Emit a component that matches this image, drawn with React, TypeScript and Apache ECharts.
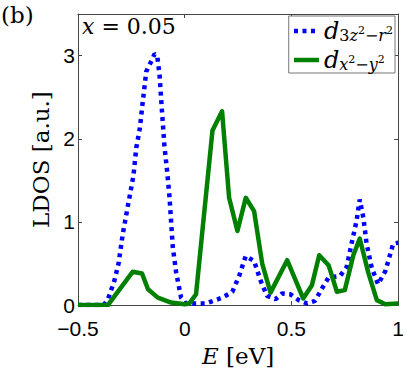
import React, { useEffect, useRef } from "react";
import * as echarts from "echarts";

// d_{3z^2-r^2} (blue, dotted)
const blueE = [-0.5, -0.38, -0.36, -0.33, -0.31, -0.29, -0.265, -0.24, -0.227, -0.21, -0.196, -0.18, -0.157, -0.141, -0.129, -0.118, -0.11, -0.095, -0.082, -0.071, -0.056, -0.04, -0.017, 0.006, 0.1, 0.177, 0.223, 0.255, 0.286, 0.325, 0.356, 0.386, 0.425, 0.456, 0.495, 0.534, 0.573, 0.61, 0.65, 0.674, 0.728, 0.759, 0.78, 0.805, 0.82, 0.837, 0.852, 0.876, 0.906, 0.94, 0.977, 1.0];
const blueY = [0, 0, 0.07, 0.29, 0.5, 0.86, 1.21, 1.56, 1.89, 2.13, 2.46, 2.81, 2.93, 3.02, 3.0, 2.77, 2.46, 1.91, 1.6, 1.29, 0.7, 0.39, 0.09, 0.02, 0.02, 0.09, 0.16, 0.35, 0.59, 0.53, 0.29, 0.11, 0.07, 0.14, 0.13, 0.06, 0.02, 0.05, 0.23, 0.33, 0.35, 0.46, 0.72, 1.01, 1.27, 1.05, 0.74, 0.45, 0.25, 0.41, 0.74, 0.75];

// d_{x^2-y^2} (green, solid)
const greenE = [-0.5, -0.36, -0.244, -0.2, -0.172, -0.126, -0.064, 0.0, 0.022, 0.053, 0.13, 0.175, 0.208, 0.247, 0.286, 0.325, 0.363, 0.402, 0.48, 0.555, 0.596, 0.63, 0.674, 0.713, 0.75, 0.79, 0.82, 0.86, 0.9, 0.94, 1.0];
const greenY = [0, 0, 0.4, 0.38, 0.19, 0.09, 0.03, 0.01, 0.02, 0.13, 2.1, 2.33, 1.29, 0.89, 1.29, 1.13, 0.5, 0.15, 0.54, 0.08, 0.24, 0.6, 0.48, 0.16, 0.18, 0.6, 0.8, 0.39, 0.06, 0.01, 0.02];

const seriesNames = ["d3z2r2", "dx2y2"];
const xTicks = [-0.5, 0, 0.5, 1];
const yTicks = [0, 1, 2, 3];

const SERIF = '"DejaVu Serif", serif';
const SANS = '"Liberation Sans", Arial, sans-serif';
const AXIS_COLOR = "#444";

export default function App() {
  const ref = useRef<HTMLDivElement>(null);
  useEffect(() => {
    if (!ref.current) return;
    const chart = echarts.init(ref.current, undefined, { renderer: "svg" });
    const fmtX = (v: number) => {
      const hit = xTicks.find((t) => Math.abs(t - v) < 1e-9);
      if (hit === undefined) return "";
      return String(hit).replace("-", "\u2212");
    };
    const fmtY = (v: number) => {
      const hit = yTicks.find((t) => Math.abs(t - v) < 1e-9);
      return hit === undefined ? "" : String(hit);
    };
    const legendRich = {
      d: { fontFamily: SERIF, fontStyle: "italic", fontSize: 24, lineHeight: 24, verticalAlign: "middle", color: "#000" },
      s: { fontFamily: SERIF, fontStyle: "italic", fontSize: 16, lineHeight: 15, verticalAlign: "bottom", color: "#000" },
      n: { fontFamily: SERIF, fontSize: 16, lineHeight: 15, verticalAlign: "bottom", color: "#000" },
      p: { fontFamily: SERIF, fontSize: 11, lineHeight: 11, verticalAlign: "bottom", padding: [0, 0, 7, 0], color: "#000" },
    };
    const option: any = {
      animation: false,
      grid: { left: 78, right: 8, top: 14, bottom: 58, containLabel: false },
      xAxis: [
        {
          type: "value",
          min: -0.5,
          max: 1,
          interval: 0.5,
          position: "bottom",
          axisLine: { show: true, onZero: false, lineStyle: { color: AXIS_COLOR, width: 1 } },
          axisTick: { show: true, inside: true, length: 4, lineStyle: { color: AXIS_COLOR } },
          splitLine: { show: false },
          axisLabel: { fontFamily: SANS, fontSize: 21, color: "#000", margin: 13, formatter: fmtX },
          name: "{i|E} [eV]",
          nameLocation: "middle",
          nameGap: 35,
          nameTextStyle: {
            fontFamily: SERIF,
            fontSize: 23,
            color: "#000",
            rich: { i: { fontFamily: SERIF, fontStyle: "italic", fontSize: 23, color: "#000" } },
          },
        },
        {
          type: "value",
          min: -0.5,
          max: 1,
          interval: 0.5,
          position: "top",
          axisLine: { show: true, onZero: false, lineStyle: { color: AXIS_COLOR, width: 1 } },
          axisTick: { show: true, inside: true, length: 4, lineStyle: { color: AXIS_COLOR } },
          axisLabel: { show: false },
          splitLine: { show: false },
        },
      ],
      yAxis: [
        {
          type: "value",
          min: 0,
          max: 3.5,
          interval: 1,
          position: "left",
          axisLine: { show: true, onZero: false, lineStyle: { color: AXIS_COLOR, width: 1 } },
          axisTick: { show: true, inside: true, length: 4, lineStyle: { color: AXIS_COLOR } },
          splitLine: { show: false },
          axisLabel: { fontFamily: SANS, fontSize: 21, color: "#000", margin: 3, formatter: fmtY },
          name: "LDOS [a.u.]",
          nameLocation: "middle",
          nameGap: 25,
          nameTextStyle: { fontFamily: SERIF, fontSize: 23, color: "#000" },
        },
        {
          type: "value",
          min: 0,
          max: 3.5,
          interval: 1,
          position: "right",
          axisLine: { show: true, onZero: false, lineStyle: { color: AXIS_COLOR, width: 1 } },
          axisTick: { show: true, inside: true, length: 4, lineStyle: { color: AXIS_COLOR } },
          axisLabel: { show: false },
          splitLine: { show: false },
        },
      ],
      legend: {
        orient: "vertical",
        right: 12,
        top: 16,
        data: seriesNames,
        itemWidth: 25,
        itemHeight: 14,
        itemGap: 5,
        padding: [3, 2, 1, 3],
        borderColor: "#777",
        borderWidth: 1,
        borderRadius: 0,
        backgroundColor: "#fff",
        itemStyle: { opacity: 0 },
        lineStyle: { width: 4.5 },
        formatter: (name: string) =>
          name === "d3z2r2"
            ? "{d|d}{n|3}{s|z}{p|2}{n|\u2212}{s|r}{p|2}"
            : "{d|d}{s|x}{p|2}{n|\u2212}{s|y}{p|2}",
        textStyle: { rich: legendRich },
      },
      graphic: [
        {
          type: "text",
          left: 1,
          top: 3,
          style: { text: "(b)", fontFamily: SERIF, fontSize: 23, fill: "#000" },
        },
        {
          type: "text",
          left: 82,
          top: 15,
          style: {
            text: "{i|x} = 0.05",
            fontFamily: SERIF,
            fontSize: 22,
            fill: "#000",
            rich: { i: { fontFamily: SERIF, fontStyle: "italic", fontSize: 22, fill: "#000" } },
          },
        },
      ],
      series: [
        {
          name: seriesNames[0],
          type: "line",
          data: blueE.map((e, i) => [e, blueY[i]]),
          symbol: "none",
          showSymbol: false,
          lineStyle: { color: "#0000ff", width: 4.5, type: [4, 4.5], cap: "butt" },
          itemStyle: { color: "#0000ff" },
          z: 2,
        },
        {
          name: seriesNames[1],
          type: "line",
          data: greenE.map((e, i) => [e, greenY[i]]),
          symbol: "none",
          showSymbol: false,
          lineStyle: { color: "#008000", width: 4.5, join: "round" },
          itemStyle: { color: "#008000" },
          z: 3,
        },
      ],
    };
    chart.setOption(option);
    return () => chart.dispose();
  }, []);
  return <div ref={ref} style={{ width: 407, height: 372, position: "absolute", left: 0, top: 0 }} />;
}
